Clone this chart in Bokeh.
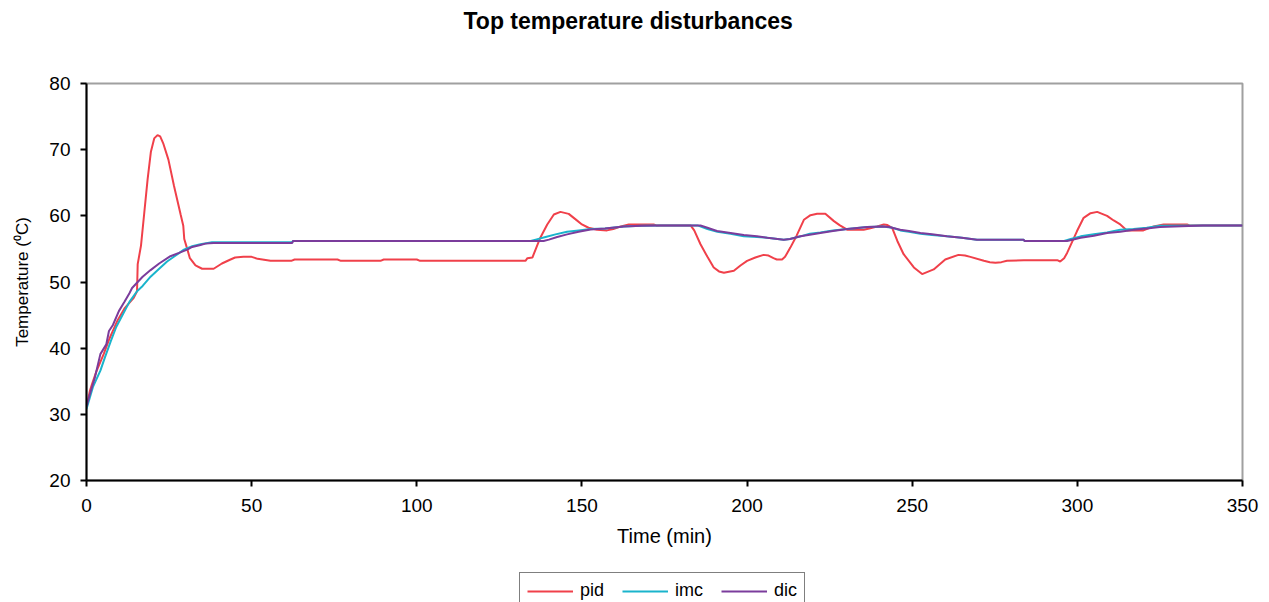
from bokeh.plotting import figure
from bokeh.layouts import column
from bokeh.models import Range1d, FixedTicker, Legend, LegendItem, Title
from bokeh.embed import file_html
from bokeh.resources import INLINE

pid_t = [0, 1, 1.7, 3, 5.2, 7, 9.3, 11.5, 14.3, 15.3, 15.5, 16.5, 17.5, 18.5, 19.5, 20.5, 21.5, 22.3, 23.2, 24.8, 26.5, 28.5, 29.3, 29.6, 30.2, 31.3, 33, 35, 38.5, 41, 43.6, 45, 47.5, 50, 51.8, 55.7, 62, 63, 76, 77, 89, 90, 100, 101, 132.9, 133.5, 135, 137.4, 139.5, 141.5, 143.5, 146, 148, 150, 152, 154.6, 157.6, 159.5, 161.2, 164.2, 171.7, 172.5, 182.9, 184, 185.9, 188, 189.9, 191.5, 193, 196, 198, 200, 202.5, 205, 206.5, 208, 209, 210.6, 211.5, 213.1, 215, 217.2, 219.2, 221.2, 223.7, 226.3, 228, 230.3, 235.3, 237, 239.4, 241.4, 242.5, 243.9, 245.5, 247.4, 250.5, 253, 256.5, 260, 264, 266, 267.6, 271.7, 273.5, 275.2, 277, 278.7, 283.8, 293.9, 294.8, 296, 296.9, 299.9, 301.9, 304, 306, 309, 311, 313, 315, 320, 323.1, 326.1, 333.2, 334, 350]
pid_y = [31.0, 33.5, 34.6, 36.5, 39.1, 41.5, 44.1, 46.0, 47.6, 48.6, 52.7, 55.5, 60.5, 65.5, 69.7, 71.7, 72.2, 72.0, 71.0, 68.5, 64.5, 60.2, 58.5, 56.5, 55.5, 53.6, 52.5, 52.0, 52.0, 52.8, 53.4, 53.7, 53.8, 53.8, 53.5, 53.2, 53.2, 53.4, 53.4, 53.2, 53.2, 53.4, 53.4, 53.2, 53.2, 53.6, 53.7, 56.7, 58.7, 60.2, 60.6, 60.3, 59.5, 58.7, 58.2, 57.9, 57.8, 58.0, 58.3, 58.7, 58.7, 58.55, 58.55, 57.8, 55.7, 53.8, 52.2, 51.6, 51.4, 51.7, 52.5, 53.2, 53.7, 54.1, 54.0, 53.6, 53.4, 53.4, 53.8, 55.2, 57.0, 59.4, 60.1, 60.3, 60.3, 59.2, 58.6, 57.9, 57.9, 58.1, 58.4, 58.7, 58.6, 58.2, 56.2, 54.2, 52.2, 51.2, 51.9, 53.4, 54.1, 54.0, 53.8, 53.2, 53.0, 52.9, 53.0, 53.2, 53.3, 53.3, 53.1, 53.6, 54.4, 57.7, 59.7, 60.4, 60.6, 60.0, 59.3, 58.7, 57.8, 57.8, 58.4, 58.7, 58.7, 58.55, 58.55]

imc_t = [0, 1, 2, 4.2, 5.5, 7.3, 9, 11.3, 13, 15.3, 17, 19.4, 22, 24.4, 27, 29.5, 32, 34.5, 38, 62.3, 62.5, 134.5, 136, 139, 142, 145.5, 149, 152.6, 157, 162.7, 168, 173.8, 185, 188, 191, 195, 199, 203, 206.1, 211.1, 213, 216.2, 219, 222.2, 226, 230.3, 236.4, 241, 244, 246.4, 249, 252.5, 256, 260.5, 265, 269.6, 283.7, 284, 296, 298, 301, 305, 309, 313, 317, 321, 325, 338, 350]
imc_y = [30.8, 32.5, 34.2, 36.6, 38.5, 41.0, 43.2, 45.4, 47.0, 48.6, 49.4, 50.8, 52.0, 53.1, 54.0, 54.9, 55.4, 55.7, 56.0, 56.0, 56.2, 56.2, 56.4, 56.8, 57.2, 57.6, 57.8, 58.0, 58.1, 58.4, 58.5, 58.55, 58.55, 58.0, 57.6, 57.3, 56.9, 56.8, 56.7, 56.4, 56.5, 56.9, 57.3, 57.5, 57.8, 58.0, 58.3, 58.4, 58.2, 57.8, 57.6, 57.3, 57.1, 56.9, 56.7, 56.4, 56.4, 56.2, 56.2, 56.5, 56.9, 57.2, 57.5, 57.9, 58.0, 58.2, 58.5, 58.55, 58.55]

dic_t = [0, 1, 2.5, 4.2, 6, 6.8, 8, 9.8, 11.5, 13, 13.8, 15.5, 17, 19.4, 22, 25.4, 28, 30.5, 32, 34.5, 36, 38.5, 62.3, 62.5, 138.4, 140, 142.5, 145.5, 149, 152.6, 157, 162.7, 168, 173.8, 185.9, 188, 190.9, 195, 199, 203, 206.1, 211.1, 213, 216.2, 222.2, 226, 230.3, 236.4, 241, 243, 246.4, 249, 252.5, 256, 260.5, 265, 269.6, 283.7, 284, 296.9, 301, 305, 309, 313, 317, 321, 325, 338, 350]
dic_y = [31.2, 33.0, 35.5, 39.1, 40.6, 42.6, 43.5, 45.6, 47.0, 48.3, 49.1, 50.0, 50.8, 51.8, 52.8, 53.9, 54.4, 54.9, 55.3, 55.6, 55.8, 55.9, 55.9, 56.2, 56.2, 56.4, 56.8, 57.2, 57.6, 57.95, 58.1, 58.4, 58.5, 58.55, 58.55, 58.2, 57.7, 57.4, 57.1, 56.9, 56.7, 56.4, 56.5, 56.9, 57.4, 57.7, 58.0, 58.3, 58.4, 58.3, 57.9, 57.7, 57.4, 57.2, 56.9, 56.7, 56.4, 56.4, 56.2, 56.2, 56.7, 57.0, 57.4, 57.6, 57.9, 58.1, 58.3, 58.55, 58.55]

series_names = ["pid", "imc", "dic"]
series_colors = ["#f0404a", "#1ab4cc", "#7b3c9c"]
series_t = [pid_t, imc_t, dic_t]
series_y = [pid_y, imc_y, dic_y]

x_ticks = [0, 50, 100, 150, 200, 250, 300, 350]
y_ticks = [20, 30, 40, 50, 60, 70, 80]

FONT = "Liberation Sans"

p = figure(width=1269, height=572, output_backend="svg", toolbar_location=None,
           x_range=Range1d(0, 350), y_range=Range1d(20, 80), title=None)
p.min_border_left = 86
p.min_border_right = 27
p.min_border_top = 82
p.min_border_bottom = 92
p.background_fill_color = "white"
p.border_fill_color = "white"
p.outline_line_color = "#a0a0a0"
p.outline_line_width = 2
p.grid.visible = False

# spacer between frame and title, then the title itself (outermost)
p.add_layout(Title(text=" ", text_font_size="30px", standoff=10), "above")
p.add_layout(Title(text="Top temperature disturbances", align="left", offset=377,
                   text_font=FONT, text_font_style="bold", text_font_size="23px",
                   text_color="black", standoff=10), "above")

for ax in (p.xaxis[0], p.yaxis[0]):
    ax.axis_line_color = "black"
    ax.axis_line_width = 2
    ax.major_tick_line_color = "black"
    ax.major_tick_line_width = 2
    ax.major_tick_in = 0
    ax.major_tick_out = 6
    ax.minor_tick_line_color = None
    ax.major_label_text_font = FONT
    ax.major_label_text_font_size = "19px"
    ax.major_label_text_color = "black"
    ax.axis_label_text_font = FONT
    ax.axis_label_text_font_style = "normal"
    ax.axis_label_text_color = "black"

p.xaxis.ticker = FixedTicker(ticks=x_ticks)
p.yaxis.ticker = FixedTicker(ticks=y_ticks)
p.xaxis.axis_label = "Time (min)"
p.yaxis.axis_label = "Temperature (\u2070C)"
p.xaxis.axis_label_text_font_size = "20px"
p.yaxis.axis_label_text_font_size = "17px"
p.xaxis.major_label_standoff = 12
p.yaxis.major_label_standoff = 10
p.xaxis.axis_label_standoff = 10
p.yaxis.axis_label_standoff = 14

for t, y, col in zip(series_t, series_y, series_colors):
    p.line(t, y, line_color=col, line_width=2)

# legend strip below the chart (its lines lie outside this strip's ranges)
p2 = figure(width=1269, height=30, output_backend="svg", toolbar_location=None,
            x_axis_type=None, y_axis_type=None, x_range=Range1d(0, 1), y_range=Range1d(0, 1),
            min_border=0)
p2.outline_line_color = None
p2.grid.visible = False
items = []
for name, t, y, col in zip(series_names, series_t, series_y, series_colors):
    r = p2.line(t, y, line_color=col, line_width=2)
    items.append(LegendItem(label=name, renderers=[r]))
legend = Legend(items=items, orientation="horizontal", location=(433, -7))
legend.label_text_font = FONT
legend.label_text_font_size = "18px"
legend.label_text_color = "black"
legend.glyph_width = 46
legend.glyph_height = 20
legend.label_standoff = 7
legend.spacing = 18
legend.padding = 7
legend.margin = 0
legend.border_line_color = "black"
legend.border_line_width = 1.5
legend.background_fill_alpha = 1
p2.add_layout(legend, "center")

layout = column(p, p2, spacing=0)
open("out.html", "w").write(file_html(layout, INLINE))
